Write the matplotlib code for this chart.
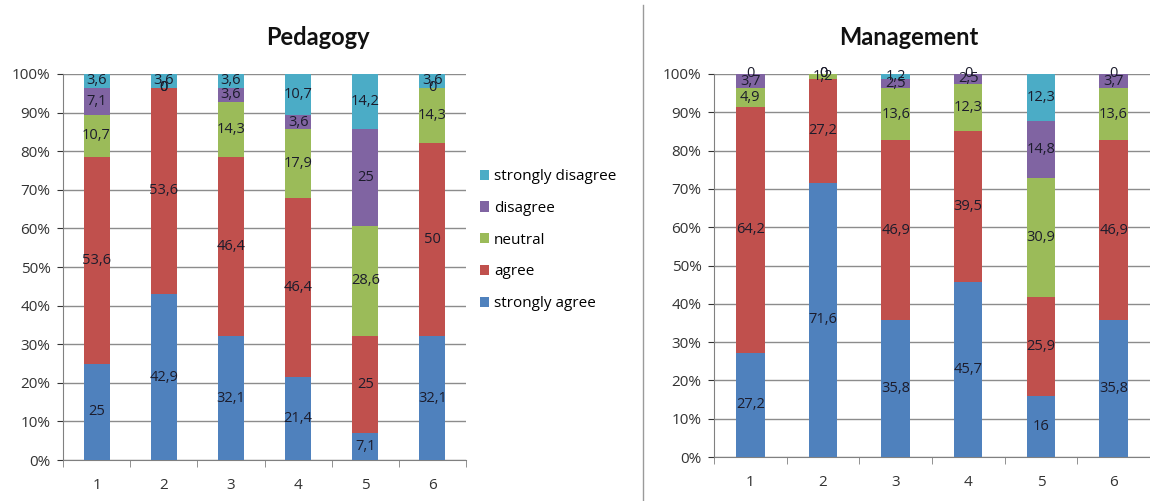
import numpy as np
import matplotlib.pyplot as plt
from matplotlib.lines import Line2D
from matplotlib.patches import Patch

plt.rcParams['font.family'] = ['Open Sans', 'DejaVu Sans']

questions = ['1', '2', '3', '4', '5', '6']
levels = ['strongly agree', 'agree', 'neutral', 'disagree', 'strongly disagree']
colors = ['#4F81BD', '#C0504D', '#9BBB59', '#8064A2', '#4BACC6']

# percentages per answer level, one value per question
ped_strongly_agree = [25, 42.9, 32.1, 21.4, 7.1, 32.1]
ped_agree = [53.6, 53.6, 46.4, 46.4, 25, 50]
ped_neutral = [10.7, 0, 14.3, 17.9, 28.6, 14.3]
ped_disagree = [7.1, 0, 3.6, 3.6, 25, 0]
ped_strongly_disagree = [3.6, 3.6, 3.6, 10.7, 14.2, 3.6]

man_strongly_agree = [27.2, 71.6, 35.8, 45.7, 16, 35.8]
man_agree = [64.2, 27.2, 46.9, 39.5, 25.9, 46.9]
man_neutral = [4.9, 1.2, 13.6, 12.3, 30.9, 13.6]
man_disagree = [3.7, 0, 2.5, 2.5, 14.8, 3.7]
man_strongly_disagree = [0, 0, 1.2, 0, 12.3, 0]

pedagogy = [ped_strongly_agree, ped_agree, ped_neutral, ped_disagree, ped_strongly_disagree]
management = [man_strongly_agree, man_agree, man_neutral, man_disagree, man_strongly_disagree]

fig = plt.figure(figsize=(11.5, 5.01), dpi=100)
ax1 = fig.add_axes([0.0548, 0.0818, 0.3504, 0.7705])
ax2 = fig.add_axes([0.6209, 0.0878, 0.3790, 0.7645])


def fmt(v):
    return ('%g' % v).replace('.', ',')


def stacked(ax, series):
    x = np.arange(1, len(questions) + 1)
    bottom = np.zeros(len(questions))
    for vals, col in zip(series, colors):
        vals = np.array(vals, dtype=float)
        ax.bar(x, vals, 0.39, bottom=bottom, color=col, zorder=3)
        for xi, b, v in zip(x, bottom, vals):
            ax.text(xi, b + v / 2, fmt(v), ha='center', va='center',
                    fontsize=10.5, color='#1c1c2c', zorder=4)
        bottom += vals
    ax.set_xlim(0.5, len(questions) + 0.5)
    ax.set_ylim(0, 100)
    ax.set_yticks(np.arange(0, 101, 10))
    ax.set_yticklabels(['%d%%' % t for t in range(0, 101, 10)])
    ax.set_xticks(x)
    ax.set_xticklabels(questions)
    ax.set_xticks(np.arange(0.5, len(questions) + 1), minor=True)
    ax.tick_params(axis='x', which='major', length=0, pad=13)
    ax.tick_params(axis='x', which='minor', length=5, color='#808080')
    ax.tick_params(axis='y', length=4, color='#808080', pad=5)
    ax.tick_params(labelsize=11, colors='#333333')
    ax.grid(axis='y', color='#8c8c8c', linewidth=1, zorder=0)
    for s in ['top', 'right']:
        ax.spines[s].set_visible(False)
    for s in ['left', 'bottom']:
        ax.spines[s].set_color('#808080')


stacked(ax1, pedagogy)
stacked(ax2, management)

title_font = dict(fontsize=17, fontweight='bold', ha='center', va='center',
                  family=['Lato', 'DejaVu Sans'], color='#111111')
fig.text(0.2765, 0.926, 'Pedagogy', **title_font)
fig.text(0.790, 0.926, 'Management', **title_font)

handles = [Patch(facecolor=c, edgecolor='none') for c in colors][::-1]
fig.legend(handles, levels[::-1], loc='upper left', bbox_to_anchor=(0.405, 0.69),
           frameon=False, fontsize=11, handlelength=0.65, handleheight=0.65,
           handletextpad=0.3, labelspacing=1.1)

# separator between the two panels
fig.add_artist(Line2D([0.5591, 0.5591], [0, 0.99], color='#9a9a9a', linewidth=1))

fig.savefig('out.png', dpi=100)
